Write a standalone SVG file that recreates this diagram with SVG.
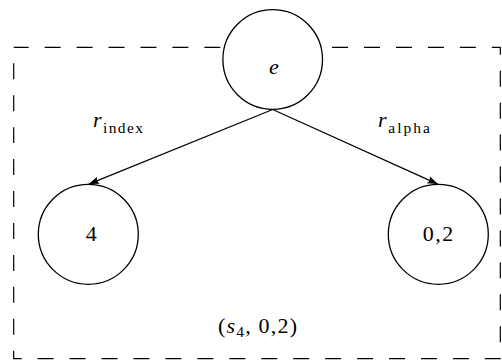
<svg xmlns="http://www.w3.org/2000/svg" width="502" height="360" viewBox="0 0 502 360" font-family="Liberation Serif, DejaVu Serif, serif" font-size="22">
<style>
.node{fill:#fff;stroke:#000;stroke-width:1.3}
.edge{fill:none;stroke:#000;stroke-width:1.2}
.it{font-style:italic}
.sub{font-size:15.5px}
</style>
<defs>
<marker id="arr" markerUnits="userSpaceOnUse" markerWidth="14" markerHeight="10" viewBox="-11 -5 12 10" refX="0" refY="0" orient="auto">
<path d="M0,0 L-10.5,-3.8 Q-7.5,0 -10.5,3.8 Z" fill="#000"/>
</marker>
</defs>
<rect width="502" height="360" fill="#fff"/>
<g id="frame">
<path d="M13.7,47.3 V358.7 H500.3 V47.3 Z" fill="none" stroke="#000" stroke-width="1.2" stroke-dasharray="15.97 15.97" stroke-dashoffset="15.97"/>
<text x="218" y="333" textLength="79" lengthAdjust="spacing">(<tspan class="it">s</tspan><tspan class="sub" dy="4">4</tspan><tspan dy="-4">, 0,2)</tspan></text>
</g>
<g id="connectors">
<line class="edge" x1="272.7" y1="109.5" x2="88.8" y2="184.1" marker-end="url(#arr)"/>
<line class="edge" x1="272.7" y1="109.5" x2="437.8" y2="184.1" marker-end="url(#arr)"/>
<text class="it" x="93" y="127">r</text>
<text class="sub" x="103" y="133.3" textLength="40" lengthAdjust="spacing">index</text>
<text class="it" x="378" y="127">r</text>
<text class="sub" x="388.3" y="133.3" textLength="41.7" lengthAdjust="spacing">alpha</text>
</g>
<g id="node-e">
<circle class="node" cx="272.7" cy="59.5" r="49.8"/>
<text class="it" x="274" y="74" text-anchor="middle">e</text>
</g>
<g id="node-4">
<circle class="node" cx="88.3" cy="234.3" r="50"/>
<text x="91.3" y="241" text-anchor="middle">4</text>
</g>
<g id="node-02">
<circle class="node" cx="438.3" cy="234.3" r="50"/>
<text x="422.7" y="241" textLength="30.6" lengthAdjust="spacing">0,2</text>
</g>
</svg>
